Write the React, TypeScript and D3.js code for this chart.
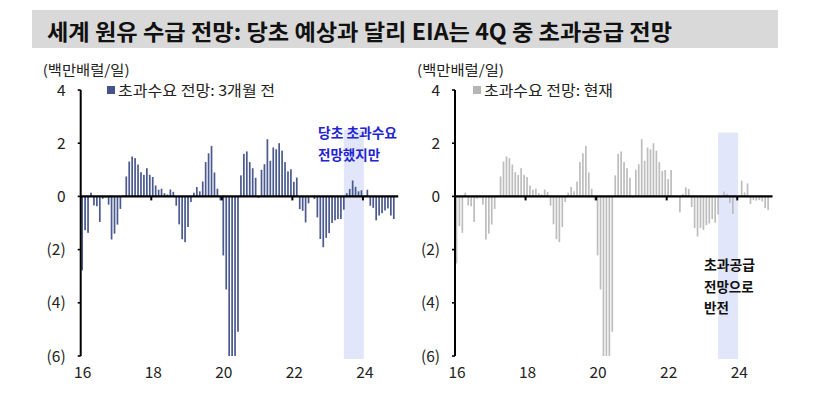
import * as d3 from "d3";

// monthly categories, 2016-01 .. 2024-12
const years = [2016, 2017, 2018, 2019, 2020, 2021, 2022, 2023, 2024];
const months = years.flatMap((y) => d3.range(1, 13).map((m) => `${y}-${String(m).padStart(2, "0")}`));
const yearTicks = ["16", "18", "20", "22", "24"];
const yTicks = [4, 2, 0, -2, -4, -6];

// 초과수요 전망: 3개월 전 (백만배럴/일), 2016-01 .. 2024-11
const prevForecast = [
  -2.78, -1.27, -1.37, 0.14, -0.34, -0.37, -0.96, -0.09, -0.05, -0.31, -1.62, -1.4,
  -1.06, -0.47, 0.04, 0.75, 1.31, 1.5, 1.44, 1.2, 0.91, 0.81, 1.06, 0.81,
  0.73, 0.41, 0.25, 0.29, 0.12, 0.07, 0.26, 0.17, -0.35, -1.05, -1.61, -1.72,
  -1.15, -0.21, 0.14, 0.35, 0.19, 0.56, 1.29, 1.62, 1.9, 0.9, 0.29, -0.15,
  -2.22, -3.5, -6.0, -6.0, -6.0, -5.09, 0.79, 1.6, 1.69, 1.29, 1.06, 0.7,
  -0.05, 1.0, 1.21, 2.15, 1.34, 1.84, 1.77, 2.0, 1.72, 1.29, 0.94, 1.02,
  0.55, 0.71, -0.48, -0.54, -0.98, -0.26, 0.0, -0.1, -0.79, -1.6, -1.91, -1.56,
  -1.38, -1.0, -0.9, -0.85, -0.85, -0.5, 0.12, 0.28, 0.6, 0.36, 0.19, 0.23,
  0.02, 0.25, -0.35, -0.43, -0.9, -0.72, -0.63, -0.53, -0.45, -0.72, -0.85,
];

// 초과수요 전망: 현재
const currentForecast = [
  -2.52, -1.12, -1.37, 0.14, -0.34, -0.37, -0.96, -0.09, -0.05, -0.31, -1.62, -1.4,
  -1.06, -0.47, 0.04, 0.75, 1.31, 1.5, 1.44, 1.2, 0.91, 0.81, 1.06, 0.81,
  0.73, 0.41, 0.25, 0.29, 0.12, 0.07, 0.26, 0.17, -0.35, -1.05, -1.61, -1.72,
  -1.15, -0.21, 0.14, 0.35, 0.19, 0.56, 1.29, 1.62, 1.9, 0.9, 0.29, -0.15,
  -2.22, -3.5, -6.0, -6.0, -6.0, -5.09, 0.79, 1.6, 1.69, 1.29, 1.06, 0.7,
  -0.05, 1.0, 1.21, 2.15, 1.34, 1.84, 1.77, 2.0, 1.72, 1.29, 0.96, 0.99,
  0.65, 0.99, 0.0, -0.02, -0.6, 0.09, 0.34, 0.28, -0.4, -1.19, -1.51, -1.19,
  -1.26, -1.08, -1.02, -0.85, -0.99, -0.68, -0.05, 0.18, 0.09, -0.25, -0.66, 0.0,
  0.0, 0.59, 0.15, 0.49, -0.29, -0.14, -0.16, -0.14, -0.19, -0.44, -0.51,
];

const highlightMonths = ["2023-07", "2023-12"];

const FONT = "'Noto Sans CJK KR', 'Noto Sans', sans-serif";
const fmt = (v: number) => (v < 0 ? `(${-v})` : `${v}`);

type PanelProps = {
  left: number;
  values: number[];
  color: string;
  legend: string;
  legendColor: string;
  legendX: number;
  legendW: number;
  bandTop: number;
  note: string[];
  noteColor: string;
  noteX: number;
  noteY: number;
  noteW: number;
};

function Panel(p: PanelProps) {
  const { left, values, color, legend, legendColor, legendX, legendW, bandTop, note, noteColor, noteX, noteY, noteW } = p;
  const x = d3.scaleBand<string>().domain(months).range([left, left + months.length * 2.94]);
  const y = d3.scaleLinear().domain([-6, 4]).range([356, 90]).clamp(true);
  const bw = 1.7;
  const bandX0 = x(highlightMonths[0])! - x.bandwidth() / 2;
  const bandX1 = x(highlightMonths[1])! + x.bandwidth() * 1.3;

  return (
    <g>
      <rect x={bandX0} y={y(bandTop)} width={bandX1 - bandX0} height={y(-6) + 3 - y(bandTop)} fill="#e1e6fb" />
      <text x={left - 38} y={75} fontSize={14} fill="#222" textLength={87} lengthAdjust="spacingAndGlyphs">(백만배럴/일)</text>
      {yTicks.map((t) => (
        <g key={t}>
          <text x={left - 15} y={y(t)} dy="0.36em" textAnchor="end" fontSize={15.5} fill="#222">{fmt(t)}</text>
          <line x1={left - 3} x2={left} y1={y(t)} y2={y(t)} stroke="#000" strokeWidth={1.6} />
        </g>
      ))}
      {values.map((v, i) => {
        const cx = x(months[i])! + x.bandwidth() / 2;
        return (
          <rect key={i} x={cx - bw / 2} y={Math.min(y(v), y(0))} width={bw} height={Math.abs(y(v) - y(0))} fill={color} />
        );
      })}
      <line x1={left} x2={left} y1={y(4)} y2={y(-6)} stroke="#000" strokeWidth={2} />
      <line x1={left} x2={x.range()[1]} y1={y(0)} y2={y(0)} stroke="#000" strokeWidth={2.2} />
      {yearTicks.map((t) => {
        const px = x(`20${t}-01`)!;
        return (
          <g key={t}>
            {t !== "16" && <line x1={px} x2={px} y1={y(0)} y2={y(0) + 4} stroke="#000" strokeWidth={2} />}
            <text x={px + 2} y={378} textAnchor="middle" fontSize={15.5} fill="#222">{t}</text>
          </g>
        );
      })}
      <rect x={legendX} y={86} width={8} height={8} fill={legendColor} />
      <text x={legendX + 11} y={96} fontSize={15} fill="#222" textLength={legendW} lengthAdjust="spacingAndGlyphs">{legend}</text>
      {note.map((s, i) => (
        <text key={i} x={noteX} y={noteY + i * 21.5} fontSize={13.5} fontWeight={700} fill={noteColor}
          textLength={i === 0 ? noteW : undefined} lengthAdjust="spacingAndGlyphs">{s}</text>
      ))}
    </g>
  );
}

export default function App() {
  return (
    <svg width={831} height={393} style={{ position: "fixed", left: 0, top: 0, background: "#fff" }} fontFamily={FONT}>
      <rect x={32} y={10} width={746} height={38} fill="#d9d9d9" />
      <text x={47} y={40} fontSize={22} fontWeight={700} fill="#111" textLength={625} lengthAdjust="spacingAndGlyphs">
        세계 원유 수급 전망: 당초 예상과 달리 EIA는 4Q 중 초과공급 전망
      </text>
      <Panel
        left={80.7}
        values={prevForecast}
        color="#4a5a8e"
        legend="초과수요 전망: 3개월 전"
        legendColor="#44548a"
        legendX={107}
        legendW={157}
        bandTop={2.5}
        note={["당초 초과수요", "전망했지만"]}
        noteColor="#2323d0"
        noteX={318}
        noteY={138}
        noteW={79}
      />
      <Panel
        left={455}
        values={currentForecast}
        color="#bdbdbd"
        legend="초과수요 전망: 현재"
        legendColor="#b5b5b5"
        legendX={473}
        legendW={129}
        bandTop={2.4}
        note={["초과공급", "전망으로", "반전"]}
        noteColor="#111"
        noteX={704}
        noteY={270}
        noteW={51}
      />
    </svg>
  );
}
